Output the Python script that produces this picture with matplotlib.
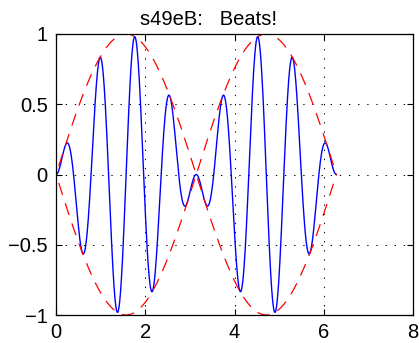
import matplotlib
matplotlib.use("Agg")
import matplotlib.pyplot as plt
import numpy as np

plt.rcParams['font.family'] = ['Liberation Sans', 'DejaVu Sans']

# beats: slow envelope times fast carrier, over one full envelope period
t_start = 0.0
t_end = 2 * np.pi
n_points = 1000
envelope_freq = 1
carrier_freq = 8

title = "s49eB:   Beats!"
xticks = [0, 2, 4, 6, 8]
yticks = [-1, -0.5, 0, 0.5, 1]
xtick_labels = ["0", "2", "4", "6", "8"]
ytick_labels = ["\u22121", "\u22120.5", "0", "0.5", "1"]

t = np.linspace(t_start, t_end, n_points)
env = np.sin(envelope_freq * t)
y = env * np.sin(carrier_freq * t)

fig = plt.figure(figsize=(4.19, 3.43), dpi=100)
ax = fig.add_axes([0.1337, 0.0816, 0.852, 0.8193])

dash = (9.9, (10, 7))
ax.plot(t, y, color="blue", lw=1.0)
ax.plot(t, env, color="red", lw=0.9, linestyle=dash)
ax.plot(t, -env, color="red", lw=0.9, linestyle=dash)

ax.set_xlim(0, 8)
ax.set_ylim(-1, 1)
ax.set_xticks(xticks)
ax.set_xticklabels(xtick_labels)
ax.set_yticks(yticks)
ax.set_yticklabels(ytick_labels)
ax.tick_params(direction="in", length=4, width=0.8, top=True, right=True,
               labelsize=14.5, pad=6)
for s in ax.spines.values():
    s.set_linewidth(0.9)

ax.grid(True, color="black", linestyle=(0, (1.4, 8)), lw=0.7)
# title sits a little left of centre in the original
fig.text(140 / 419, 0.927, title, fontsize=14.5, ha="left", va="baseline")

fig.savefig("out.png", dpi=100)
